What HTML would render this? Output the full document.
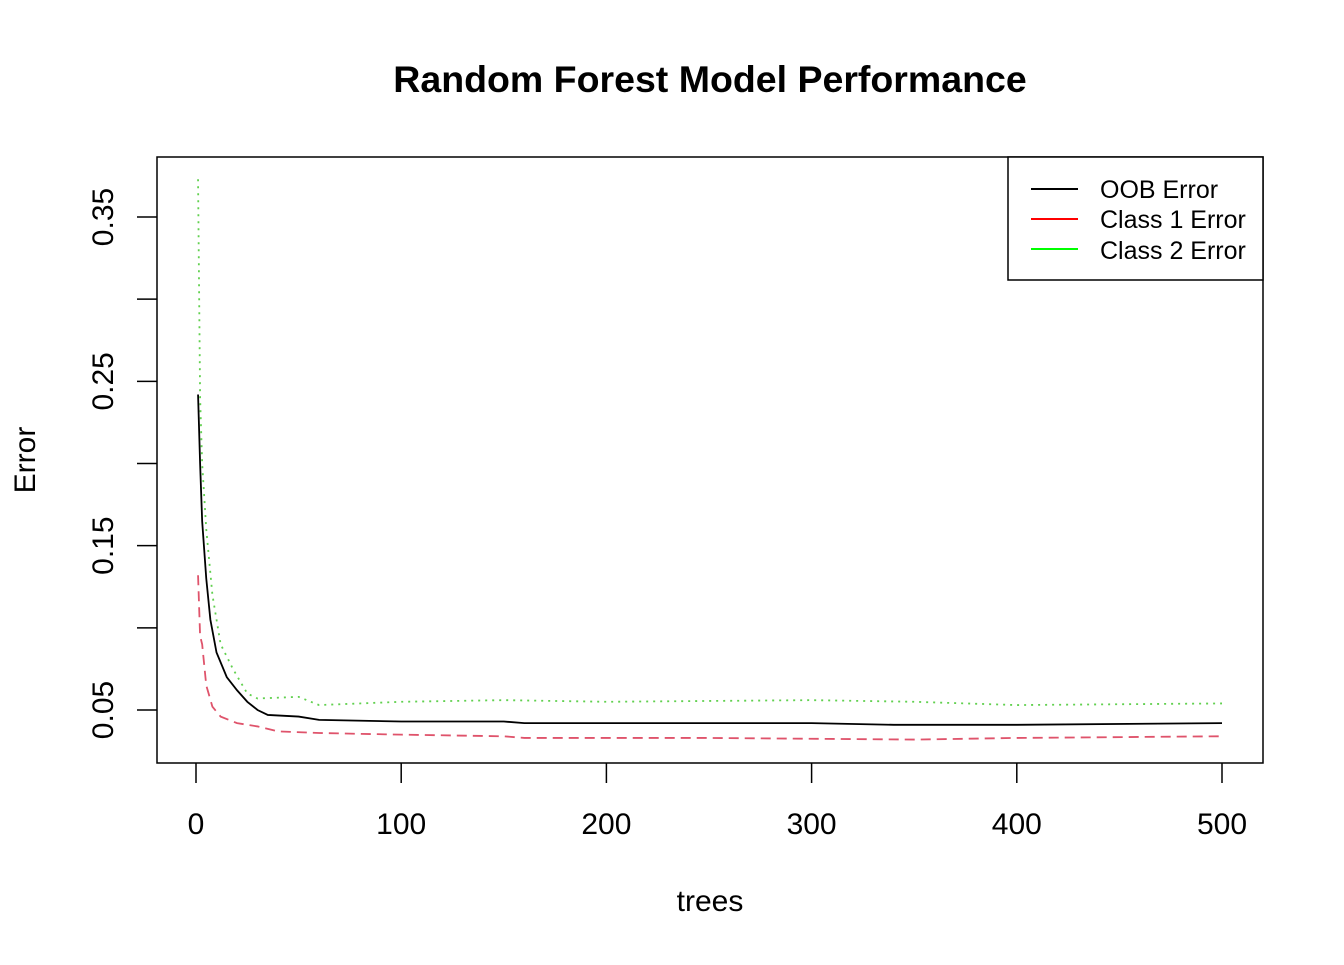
<!DOCTYPE html>
<html><head><meta charset="utf-8"><style>
body{margin:0;background:#fff}
text{font-family:"Liberation Sans",Arial,sans-serif}
</style></head><body>
<svg id="c" width="1344" height="960" xmlns="http://www.w3.org/2000/svg">
<text x="710" y="92" text-anchor="middle" font-size="37.5" font-weight="bold">Random Forest Model Performance</text>
<rect x="157" y="157" width="1106" height="606" fill="none" stroke="#000" stroke-width="1.5"/>
<text x="710" y="911" text-anchor="middle" font-size="30">trees</text>
<text transform="translate(35,460) rotate(-90)" text-anchor="middle" font-size="30">Error</text>
<g id="axes"></g>
<g id="series"></g>
<g>
<rect x="1008" y="157" width="255" height="123" fill="#fff" stroke="#000" stroke-width="1.5"/>
<line x1="1031" y1="189" x2="1078" y2="189" stroke="#000" stroke-width="2"/>
<text x="1100" y="198" font-size="25">OOB Error</text>
<line x1="1031" y1="219" x2="1078" y2="219" stroke="#f00" stroke-width="2"/>
<text x="1100" y="228" font-size="25">Class 1 Error</text>
<line x1="1031" y1="249" x2="1078" y2="249" stroke="#0f0" stroke-width="2"/>
<text x="1100" y="259" font-size="25">Class 2 Error</text>
</g>
</svg>
<script>
const xTicks=[0,100,200,300,400,500];
const yTicks=[0.05,0.10,0.15,0.20,0.25,0.30,0.35];
const yLabels=["0.05","","0.15","","0.25","","0.35"];
const oobTrees=[1,2,3,5,7,10,15,20,25,30,35,50,60,100,150,160,200,300,340,400,500];
const oobVals=[0.242,0.20,0.165,0.13,0.105,0.085,0.07,0.062,0.055,0.05,0.047,0.046,0.044,0.043,0.043,0.042,0.042,0.042,0.041,0.041,0.042];
const c1Trees=[1,2,3,5,8,12,20,30,40,60,100,150,160,250,350,400,500];
const c1Vals=[0.132,0.095,0.09,0.065,0.052,0.046,0.042,0.04,0.037,0.036,0.035,0.034,0.033,0.033,0.032,0.033,0.034];
const c2Trees=[1,2,3,5,8,12,18,25,30,50,60,100,150,200,300,350,400,500];
const c2Vals=[0.373,0.24,0.2,0.16,0.12,0.09,0.075,0.06,0.057,0.058,0.053,0.055,0.056,0.055,0.056,0.055,0.053,0.054];
const X=t=>196+t*(1222-196)/500;
const Y=v=>217+(0.35-v)*(710-217)/0.30;
const ns="http://www.w3.org/2000/svg";
const ax=document.getElementById('axes'),sg=document.getElementById('series');
function mk(tag,at,parent){const e=document.createElementNS(ns,tag);for(const k in at)e.setAttribute(k,at[k]);parent.appendChild(e);return e;}
xTicks.forEach(t=>{
 const l=mk('line',{x1:X(t),x2:X(t),y1:763,y2:783,stroke:'#000','stroke-width':1.5},ax);
 
 
 const tx=mk('text',{x:X(t),y:834,'text-anchor':'middle','font-size':30},ax);tx.textContent=t;
 
 
});
yTicks.forEach((v,i)=>{
 const l=mk('line',{x1:137,x2:157,y1:Y(v),y2:Y(v),stroke:'#000','stroke-width':1.5},ax);
 
 
 if(yLabels[i]){const tx=mk('text',{transform:`translate(113,${Y(v)}) rotate(-90)`,'text-anchor':'middle','font-size':30},ax);tx.textContent=yLabels[i];
 
 }
});
function draw(tr,vals,color,dash,name){
 const pts=tr.map((t,i)=>X(t)+','+Y(vals[i])).join(' ');
 const p=mk('polyline',{points:pts,fill:'none',stroke:color,'stroke-width':1.8,'stroke-dasharray':dash},sg);
 
 
}
draw(c2Trees,c2Vals,'#61D04F','2 5','class2-error-line');
draw(c1Trees,c1Vals,'#DF536B','10 6','class1-error-line');
draw(oobTrees,oobVals,'#000','none','oob-error-line');
</script>
</body></html>
